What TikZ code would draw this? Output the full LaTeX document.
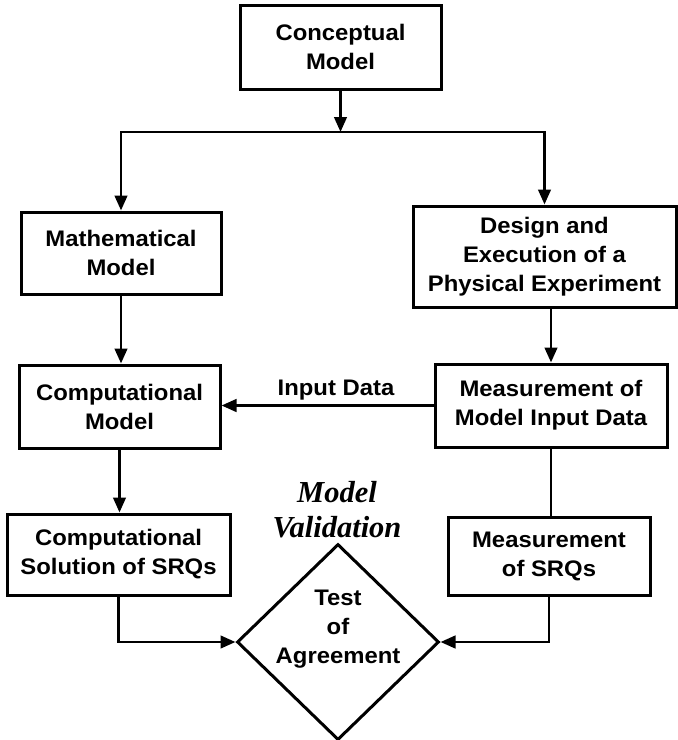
\documentclass[tikz,border=0pt]{standalone}
\usepackage{fontspec}
\newfontfamily\boxfont{Liberation Sans}[FakeStretch=1.06]
\newfontfamily\mvfont{Liberation Serif}
\usetikzlibrary{arrows.meta,shapes.geometric}
\begin{document}
\begin{tikzpicture}[x=1pt,y=-1pt,
  box/.style={draw, line width=3pt, align=center, inner sep=0pt,
    font=\boxfont\bfseries\fontsize{22.5}{29}\selectfont},
  conn/.style={line width=2.8pt},
  arr/.style={conn, -{Triangle[length=15pt,width=12.5pt]}},
  mvtext/.style={font=\mvfont\bfseries\itshape\fontsize{30.5}{35}\selectfont, anchor=base, inner sep=0pt},
]
\useasboundingbox (0,0) rectangle (678,740);

\node[box, minimum width=201pt, minimum height=84pt] (concept) at (340.5,47) {Conceptual\\Model};
\node[box, minimum width=200pt, minimum height=82pt] (math) at (121,253) {Mathematical\\Model};
\node[box, minimum width=263pt, minimum height=101pt] (design) at (544.5,256.5) {Design and\\Execution of a\\Physical Experiment};
\node[box, minimum width=201pt, minimum height=83pt] (compmodel) at (119.5,406.5) {Computational\\Model};
\node[box, minimum width=232pt, minimum height=83pt] (measmid) at (551,405.5) {Measurement of\\Model Input Data};
\node[box, minimum width=223pt, minimum height=81pt] (compsol) at (118.5,554.5) {Computational\\Solution of SRQs};
\node[box, minimum width=202pt, minimum height=78pt] (meassrq) at (549,556) {Measurement\\of SRQs};
\node[draw, diamond, line width=3pt, minimum width=202pt, minimum height=196pt, inner sep=0pt] (test) at (338,642) {};
\node[align=center, inner sep=0pt, font=\boxfont\bfseries\fontsize{22.5}{29}\selectfont] (testtext) at (338,629) {Test\\of\\Agreement};

\node[mvtext] (mv1) at (337,502) {Model};
\node[mvtext] (mv2) at (337,537) {Validation};

\coordinate (hl) at (0,132);
\coordinate (split) at (concept.south |- hl);
\draw[arr] (concept.south) -- (split);
\draw[arr] (split) -| (math.north);
\draw[arr] (split) -| (design.north);
\draw[arr] (math.south) -- (math.south |- compmodel.north);
\draw[arr] (measmid.north |- design.south) -- (measmid.north);
\draw[arr] (measmid.west) -- node[pos=0.46, anchor=base, yshift=10pt, inner sep=0pt, font=\boxfont\bfseries\fontsize{22.5}{29}\selectfont] (inlabel) {Input Data} (measmid.west -| compmodel.east);
\draw[arr] (compmodel.south) -- (compmodel.south |- compsol.north);
\draw[conn] (measmid.south) -- (measmid.south |- meassrq.north);
\draw[arr] (compsol.south) |- (test.west);
\draw[arr] (meassrq.south) |- (test.east);
\end{tikzpicture}
\end{document}
